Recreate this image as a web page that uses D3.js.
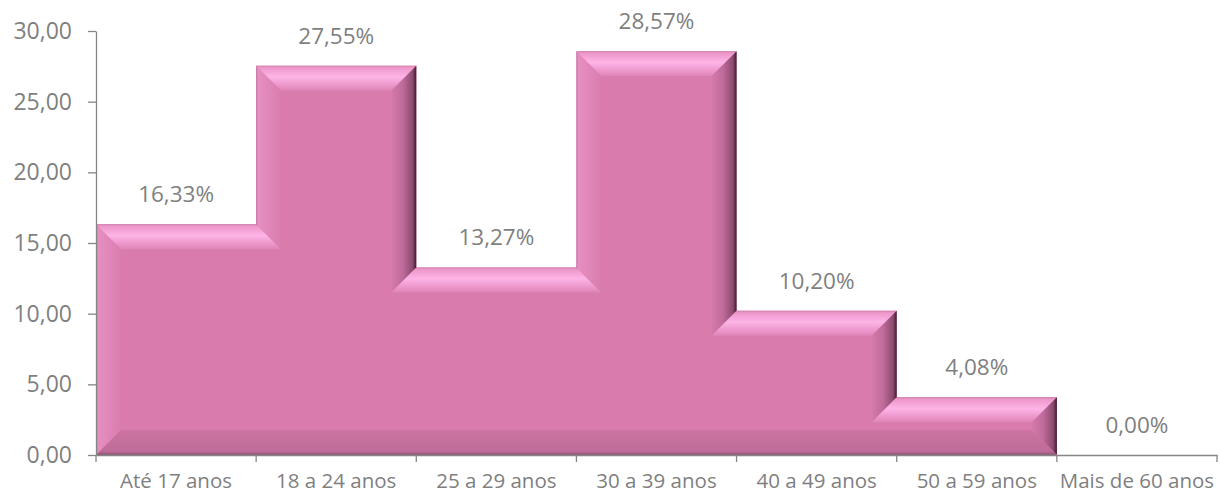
<!DOCTYPE html>
<html>
<head>
<meta charset="utf-8">
<script src="https://cdn.jsdelivr.net/npm/d3@7"></script>
<style>
  html, body { margin: 0; padding: 0; background: #ffffff; }
  svg { display: block; }
  text { font-family: "Open Sans", sans-serif; }
</style>
</head>
<body>
<svg id="chart" width="1220" height="495"></svg>
<script>
// ---- data ----
const categories = ["Até 17 anos", "18 a 24 anos", "25 a 29 anos", "30 a 39 anos", "40 a 49 anos", "50 a 59 anos", "Mais de 60 anos"];
const values = [16.33, 27.55, 13.27, 28.57, 10.20, 4.08, 0.00];
const yTicks = [0, 5, 10, 15, 20, 25, 30];

// ---- layout ----
const W = 1220, H = 495;
const m = { left: 96, right: 3, top: 31, bottom: 40 };
const svg = d3.select("#chart");
const defs = svg.append("defs");

const x = d3.scaleBand().domain(categories).range([m.left, W - m.right]).paddingInner(0).paddingOuter(0);
const y = d3.scaleLinear().domain([0, 30]).range([H - m.bottom, m.top]);

const locale = d3.formatLocale({ decimal: ",", thousands: ".", grouping: [3], currency: ["", ""] });
const f2 = locale.format(".2f");

const textColor = "#7f7f7f";
const axisColor = "#868686";

// ---- gradients ----
function grad(id, x1, y1, x2, y2, stops) {
  const g = defs.append("linearGradient").attr("id", id)
    .attr("x1", x1).attr("y1", y1).attr("x2", x2).attr("y2", y2);
  stops.forEach(s => g.append("stop").attr("offset", s[0]).attr("stop-color", s[1]));
}
grad("gTop", 0, 0, 0, 1, [[0, "#cf82ad"], [0.08, "#ee97cb"], [0.45, "#fdb4e7"], [0.8, "#eb95c9"], [1, "#de84b7"]]);
grad("gLeft", 0, 0, 1, 0, [[0, "#c27aa1"], [0.08, "#e68fc1"], [0.45, "#e287ba"], [1, "#d97dae"]]);
grad("gRight", 0, 0, 1, 0, [[0, "#d67aab"], [0.45, "#bf6c9b"], [0.85, "#8d4b70"], [1, "#3e1a2e"]]);
grad("gBottom", 0, 0, 0, 1, [[0, "#cc74a2"], [0.85, "#bf6c98"], [1, "#8e5375"]]);

// ---- silhouette of the step bars ----
const r2 = v => Math.round(v * 100) / 100;
const base = r2(y(0));
const bars = categories.map((c, i) => ({ c, v: values[i], x0: r2(x(c)), x1: r2(x(c) + x.bandwidth()), top: r2(y(values[i])) }))
  .filter(b => b.v > 0);
let pts = [[bars[0].x0, base]];
bars.forEach(b => { pts.push([b.x0, b.top]); pts.push([b.x1, b.top]); });
pts.push([bars[bars.length - 1].x1, base]);
// remove duplicates & collinear points
pts = pts.filter((p, i) => i === 0 || p[0] !== pts[i - 1][0] || p[1] !== pts[i - 1][1]);
function collinear(a, b, c) { return (a[0] === b[0] && b[0] === c[0]) || (a[1] === b[1] && b[1] === c[1]); }
let changed = true;
while (changed) {
  changed = false;
  for (let i = 0; i < pts.length; i++) {
    const a = pts[(i - 1 + pts.length) % pts.length], b = pts[i], c = pts[(i + 1) % pts.length];
    if (collinear(a, b, c)) { pts.splice(i, 1); changed = true; break; }
  }
}

const n = pts.length;
const d = 25;
const normals = [];
for (let i = 0; i < n; i++) {
  const a = pts[i], b = pts[(i + 1) % n];
  const dx = Math.sign(b[0] - a[0]), dy = Math.sign(b[1] - a[1]);
  normals.push([-dy, dx]);
}
const inner = pts.map((p, i) => {
  const np = normals[(i - 1 + n) % n], nn = normals[i];
  return [p[0] + d * (np[0] + nn[0]), p[1] + d * (np[1] + nn[1])];
});

const g = svg.append("g");
g.append("path")
  .attr("d", "M" + pts.map(p => p.join(",")).join("L") + "Z")
  .attr("fill", "#d97bad");

for (let i = 0; i < n; i++) {
  const j = (i + 1) % n;
  const nr = normals[i];
  let fill;
  if (nr[1] === 1) fill = "url(#gTop)";          // top face (interior below)
  else if (nr[1] === -1) fill = "url(#gBottom)"; // bottom face
  else if (nr[0] === 1) fill = "url(#gLeft)";    // left-side face
  else fill = "url(#gRight)";                    // right-side face
  const quad = [pts[i], pts[j], inner[j], inner[i]];
  g.append("path")
    .attr("d", "M" + quad.map(p => p.join(",")).join("L") + "Z")
    .attr("fill", fill);
}

// ---- y axis ----
const yAxis = d3.axisLeft(y).tickValues(yTicks).tickFormat(f2).tickSize(8).tickSizeOuter(0).tickPadding(16);
const gy = svg.append("g").attr("transform", `translate(${m.left},0)`).call(yAxis);
gy.select(".domain").attr("stroke", axisColor).attr("stroke-width", 1.3);
gy.selectAll(".tick line").attr("stroke", axisColor).attr("stroke-width", 1.3);
gy.selectAll(".tick text").attr("fill", textColor).style("font-size", "23px");

// ---- x axis ----
const xAxis = d3.axisBottom(x).tickSize(0).tickSizeOuter(0).tickPadding(0);
const gx = svg.append("g").attr("transform", `translate(0,${base})`).call(xAxis);
gx.select(".domain").attr("stroke", axisColor).attr("stroke-width", 1.3);
gx.selectAll(".tick text").attr("fill", textColor).style("font-size", "20.5px")
  .attr("y", 33).attr("dy", 0);
const bounds = categories.map(c => x(c)).concat([x.range()[1]]);
gx.selectAll("line.bound").data(bounds).enter().append("line")
  .attr("class", "bound")
  .attr("x1", b => b).attr("x2", b => b).attr("y1", 0).attr("y2", 7)
  .attr("stroke", axisColor).attr("stroke-width", 1.3);

// ---- data labels ----
svg.append("g").selectAll("text").data(categories).enter().append("text")
  .attr("x", (c) => x(c) + x.bandwidth() / 2)
  .attr("y", (c, i) => y(values[i]) - 22)
  .attr("text-anchor", "middle")
  .attr("fill", textColor)
  .style("font-size", "22.5px")
  .text((c, i) => f2(values[i]) + "%");
</script>
</body>
</html>
